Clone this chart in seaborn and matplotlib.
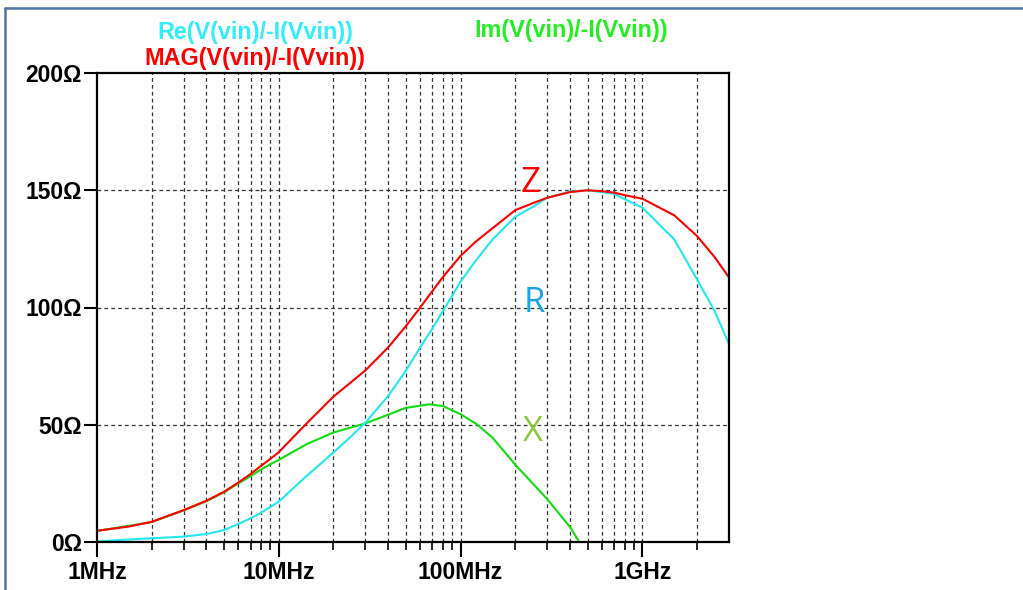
import numpy as np
import pandas as pd
import seaborn as sns
import matplotlib.pyplot as plt
from matplotlib.lines import Line2D
from matplotlib.ticker import FixedLocator, NullFormatter

# impedance of the input (freq in MHz, value in ohm)
mag_freq = [1, 1.5, 2, 3, 4, 5, 6, 7, 8, 9, 10, 14, 20, 30, 40, 50, 60, 70,
            80, 100, 120, 150, 200, 250, 300, 400, 500, 600, 700, 800, 1000,
            1500, 2000, 2500, 3000]
mag_ohm = [4.8, 6.6, 8.6, 13.6, 17.6, 21.4, 25.4, 29.0, 32.5, 35.5, 38.3, 50.0,
           62.0, 73.2, 83.0, 92.0, 100.0, 107.0, 113.0, 122.0, 127.8, 133.8,
           141.5, 144.5, 146.8, 149.2, 150.0, 149.6, 149.0, 147.9, 146.4,
           139.3, 130.5, 121.5, 112.8]

re_freq = [1, 1.7, 3, 4, 5, 6, 7, 8, 9, 10, 13.6, 20, 25, 30, 40, 50, 60, 70,
           80, 90, 100, 120, 150, 200, 250, 300, 400, 500, 600, 700, 800, 1000,
           1500, 2000, 2500, 3000]
re_ohm = [0.3, 1.3, 2.3, 3.4, 5.1, 7.7, 10.1, 12.5, 15.0, 17.2, 26.8, 38.2,
          45.0, 50.9, 62.3, 73.0, 83.0, 91.0, 98.5, 105.0, 111.0, 119.5, 129.0,
          138.7, 142.9, 146.8, 149.4, 150.0, 149.2, 148.5, 146.2, 142.6, 129.0,
          112.0, 98.5, 84.4]

im_freq = [1, 2, 3, 4, 5, 6, 7, 8, 9, 10, 14.2, 20, 30, 40, 50, 67, 80, 100,
           122, 150, 200, 300, 400, 450]
im_ohm = [4.7, 8.5, 13.5, 17.4, 21.2, 25.0, 28.1, 30.9, 33.2, 35.0, 41.7, 46.7,
          50.6, 54.3, 57.2, 58.7, 58.0, 54.5, 50.4, 44.5, 33.0, 18.3, 6.4, 0.0]

x_major = [1, 10, 100, 1000]
x_major_labels = ['1MHz', '10MHz', '100MHz', '1GHz']
y_ticks = [0, 50, 100, 150, 200]
y_labels = ['0\u03a9', '50\u03a9', '100\u03a9', '150\u03a9', '200\u03a9']

titles = ['Re(V(vin)/-I(Vvin))', 'MAG(V(vin)/-I(Vvin))', 'Im(V(vin)/-I(Vvin))']

RED = '#ff0000'
CYAN = '#22e8f0'
GREEN = '#11dd11'

sns.set_theme(style='white')
plt.rcParams['font.family'] = ['Liberation Sans', 'DejaVu Sans']

fig = plt.figure(figsize=(10.23, 5.9), dpi=100)
ax = fig.add_axes([97 / 1023, 48 / 590, 632 / 1023, 469 / 590])

sns.lineplot(x=im_freq, y=im_ohm, ax=ax, color=GREEN, linewidth=1.5)
sns.lineplot(x=re_freq, y=re_ohm, ax=ax, color=CYAN, linewidth=1.5)
sns.lineplot(x=mag_freq, y=mag_ohm, ax=ax, color=RED, linewidth=1.5)

ax.set_xscale('log')
ax.set_xlim(1, 3000)
ax.set_ylim(0, 200)

minors = [m * 10 ** d for d in range(4) for m in range(2, 10) if m * 10 ** d < 3000]
ax.xaxis.set_major_locator(FixedLocator(x_major))
ax.xaxis.set_minor_locator(FixedLocator(minors))
ax.xaxis.set_minor_formatter(NullFormatter())
ax.set_xticklabels(x_major_labels)
ax.set_yticks(y_ticks)
ax.set_yticklabels(y_labels)

for lab in ax.get_xticklabels() + ax.get_yticklabels():
    lab.set_fontweight('bold')
    lab.set_fontsize(16.5)
    lab.set_color('black')

ax.tick_params(axis='y', which='major', direction='out', length=9.5, width=1.5,
               pad=1.5, left=True, color='black')
ax.tick_params(axis='x', which='major', direction='out', length=11, width=1.5,
               pad=3, bottom=True, color='black')
ax.tick_params(axis='x', which='minor', direction='out', length=5.5, width=1.2,
               bottom=True, color='black')

grid_kw = dict(color='#333333', linewidth=0.9, linestyle=(0, (3, 2.5)))
ax.grid(False)
for f in x_major[1:] + minors:
    ax.axvline(f, zorder=0, **grid_kw)
for v in y_ticks[1:-1]:
    ax.axhline(v, zorder=0, **grid_kw)

for s in ax.spines.values():
    s.set_color('black')
    s.set_linewidth(1.6)
    s.set_visible(True)

ax.set_xlabel('')
ax.set_ylabel('')

# trace names like the LTspice header
fig.text(255 / 1023, 1 - 32 / 590, titles[0], color='#33eef8', fontsize=16.8,
         fontweight='bold', ha='center', va='center')
fig.text(255 / 1023, 1 - 59 / 590, titles[1], color=RED, fontsize=16.8,
         fontweight='bold', ha='center', va='center')
fig.text(571 / 1023, 1 - 31 / 590, titles[2], color='#22ee22', fontsize=16.8,
         fontweight='bold', ha='center', va='center')

# curve letters
ax.text(243, 153, 'Z', color=RED, fontsize=25, family='Open Sans',
        ha='center', va='center')
ax.text(255, 102, 'R', color='#1aa3e8', fontsize=25, family='Open Sans',
        ha='center', va='center')
ax.text(249, 47, 'X', color='#8cc83c', fontsize=25, family='Open Sans',
        ha='center', va='center')

# window frame (top and left edges visible)
frame_kw = dict(color='#4d76a3', linewidth=1.8, transform=fig.transFigure)
fig.add_artist(Line2D([5 / 1023, 1.0], [1 - 8 / 590, 1 - 8 / 590], **frame_kw))
fig.add_artist(Line2D([5 / 1023, 5 / 1023], [0.0, 1 - 8 / 590], **frame_kw))

fig.savefig('out.png', dpi=100)
